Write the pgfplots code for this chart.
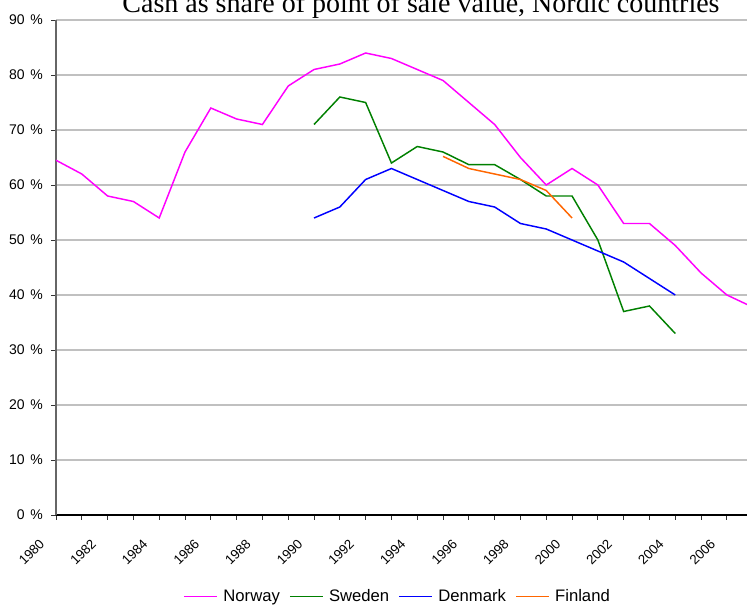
\documentclass[border=0pt]{standalone}
\usepackage{pgfplots}
\pgfplotsset{compat=1.18}
\usepackage{fontspec}
\setmainfont{Liberation Sans}
\newfontfamily\seriffont{Liberation Serif}
\definecolor{norway}{RGB}{255,0,255}
\definecolor{sweden}{RGB}{0,128,0}
\definecolor{denmark}{RGB}{0,0,255}
\definecolor{finland}{RGB}{255,102,0}
\definecolor{gridgray}{RGB}{192,192,192}
\begin{document}
\begin{tikzpicture}
\useasboundingbox (0,0) rectangle (560.25pt,454.5pt);
\begin{axis}[
  scale only axis,
  width=518.25pt, height=371.25pt,
  at={(42pt,68.25pt)}, anchor=south west,
  xmin=1980, xmax=2006.78,
  ymin=0, ymax=90,
  axis x line*=bottom,
  axis y line*=left,
  x axis line style={black, line width=0.8pt, -},
  y axis line style={black!60, line width=0.8pt, -},
  xtick={1980,1981,...,2006},
  xticklabels={1980,,1982,,1984,,1986,,1988,,1990,,1992,,1994,,1996,,1998,,2000,,2002,,2004,,2006},
  ytick={0,10,...,90},
  yticklabel={\pgfmathprintnumber{\tick}\hspace{0.4em}\%},
  tick align=outside,
  major tick length=3.4pt,
  tick style={black!80, line width=0.6pt},
  ymajorgrids,
  grid style={gridgray, line width=1pt},
  xticklabel style={rotate=45, anchor=north east, inner sep=0pt, font=\fontsize{10}{12}\selectfont, xshift=-18.9pt, yshift=-0.5pt},
  yticklabel style={font=\fontsize{10.5}{12}\selectfont, xshift=-3pt},
  /pgf/number format/assume math mode=true,
  legend columns=4,
  legend style={at={(0.495,-0.165)}, anchor=center, draw=none, fill=none,
    font=\fontsize{12.5}{14}\selectfont,
    /tikz/every odd column/.append style={column sep=2pt},
    /tikz/every even column/.append style={column sep=5pt}},
  legend image code/.code={\draw[#1] (0pt,0pt) -- (24.75pt,0pt);},
  every axis plot/.append style={line width=1.1pt, mark=none},
  clip=true,
]
\addplot[norway] coordinates {
(1980,64.5) (1981,62) (1982,58) (1983,57) (1984,54) (1985,66) (1986,74) (1987,72)
(1988,71) (1989,78) (1990,81) (1991,82) (1992,84) (1993,83) (1994,81) (1995,79)
(1996,75) (1997,71) (1998,65) (1999,60) (2000,63) (2001,60) (2002,53) (2003,53)
(2004,49) (2005,44) (2006,40) (2007,37.8)};
\addlegendentry{Norway}
\addplot[sweden] coordinates {
(1990,71) (1991,76) (1992,75) (1993,64) (1994,67) (1995,66) (1996,63.7) (1997,63.7)
(1998,61) (1999,58) (2000,58) (2001,50) (2002,37) (2003,38) (2004,33)};
\addlegendentry{Sweden}
\addplot[denmark] coordinates {
(1990,54) (1991,56) (1992,61) (1993,63) (1994,61) (1995,59) (1996,57) (1997,56)
(1998,53) (1999,52) (2000,50) (2001,48) (2002,46) (2003,43) (2004,40)};
\addlegendentry{Denmark}
\addplot[finland] coordinates {
(1995,65.2) (1996,63) (1997,62) (1998,61) (1999,59) (2000,54)};
\addlegendentry{Finland}
\end{axis}
\node[anchor=base, inner sep=0pt, font=\seriffont\fontsize{21}{24}\selectfont] at (315.75pt,445pt) {Cash as share of point of sale value, Nordic countries};
\end{tikzpicture}
\end{document}
